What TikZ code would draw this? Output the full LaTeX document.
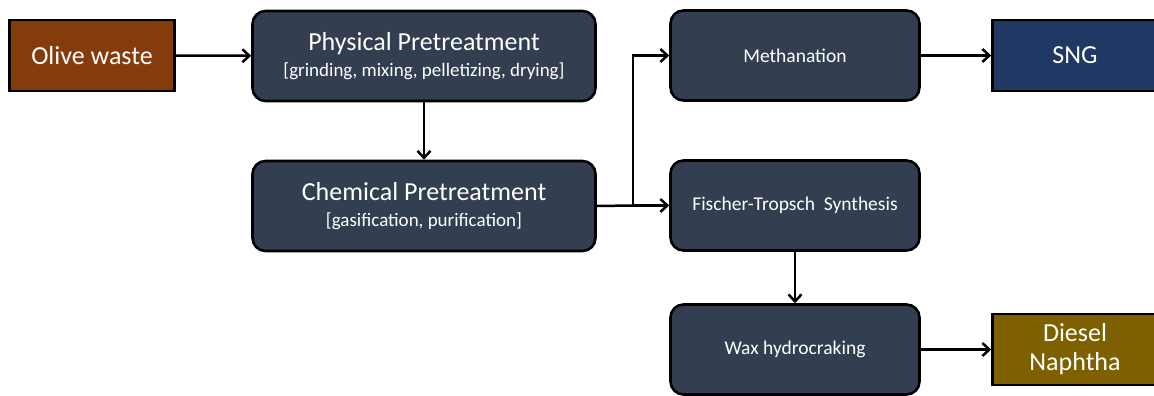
\documentclass[tikz,border=0pt]{standalone}
\usepackage{fontspec}
\setmainfont{Carlito}
\usetikzlibrary{arrows.meta}
\definecolor{boxdark}{HTML}{333F50}
\definecolor{olivebrown}{HTML}{843C0C}
\definecolor{sngblue}{HTML}{1F3864}
\definecolor{dieselgold}{HTML}{7F6000}
\begin{document}
\begin{tikzpicture}[x=1pt,y=-1pt,
  procbox/.style={draw=black, line width=2.6pt, fill=boxdark, rounded corners=13pt,
    text=white, align=center, inner sep=0pt, minimum width=343pt, minimum height=90pt,
    font=\fontsize{19}{28}\selectfont},
  smallbox/.style={procbox, minimum width=249pt, font=\fontsize{19.5}{24}\selectfont},
  endbox/.style={draw=black, line width=2.6pt, text=white, align=center, inner sep=0pt,
    minimum height=71pt, minimum width=165pt, font=\fontsize{26}{31}\selectfont},
  conn/.style={line width=2.5pt, -{Straight Barb[length=7pt,width=13pt,line width=2.5pt]}},
  plain/.style={line width=2.5pt}]
\useasboundingbox (0,0) rectangle (1154,396);
\node[endbox, fill=olivebrown] (olive) at (92,55.5) {Olive waste};
\node[procbox] (phys) at (424,56) {\raisebox{-2pt}{\fontsize{26}{28}\selectfont Physical Pretreatment}\\{[grinding, mixing, pelletizing, drying]}};
\node[procbox] (chem) at (424,206) {\raisebox{-2pt}{\fontsize{26}{28}\selectfont Chemical Pretreatment}\\{[gasification, purification]}};
\node[smallbox] (meth) at (795,55.5) {Methanation};
\node[smallbox] (ft) at (795,205.5) {Fischer-Tropsch\ \ Synthesis};
\node[smallbox] (wax) at (795,349.5) {Wax hydrocraking};
\node[endbox, fill=sngblue] (sng) at (1075,55.5) {SNG};
\node[endbox, fill=dieselgold] (diesel) at (1075,349.5) {\raisebox{-2pt}{Diesel}\\Naphtha};
\coordinate (split) at (633,205.5);
\draw[conn] (olive) -- (phys);
\draw[conn] (phys) -- (chem);
\draw[plain] (chem.east) -- (split);
\draw[conn] (split) |- (meth.west);
\draw[conn] (split) -- (ft.west);
\draw[conn] (meth) -- (sng);
\draw[conn] (ft) -- (wax);
\draw[conn] (wax) -- (diesel);
\end{tikzpicture}
\end{document}
